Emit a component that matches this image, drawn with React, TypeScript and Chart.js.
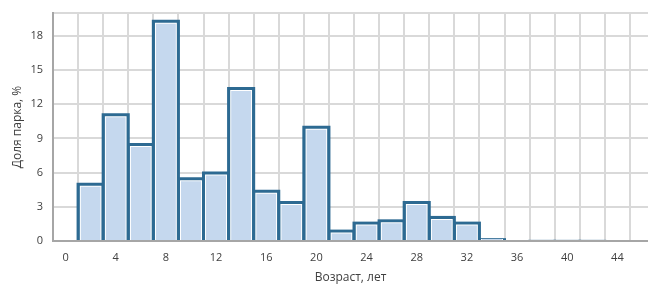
import React, { useEffect, useRef } from "react";
import { Chart, registerables } from "chart.js";

Chart.register(...registerables);

const ages = [0, 2, 4, 6, 8, 10, 12, 14, 16, 18, 20, 22, 24, 26, 28, 30, 32, 34, 36, 38, 40, 42, 44];
const shares = [0, 5.1, 11.2, 8.6, 19.4, 5.6, 6.1, 13.5, 4.5, 3.5, 10.1, 1.0, 1.7, 1.9, 3.5, 2.2, 1.7, 0.25, 0, 0.1, 0.1, 0.1, 0];
const xTickStep = 4;
const yTicks = [0, 3, 6, 9, 12, 15, 18];
const xTitle = "Возраст, лет";
const yTitle = "Доля парка, %";

const X_MIN = -1;
const X_MAX = 46.44;

const DARK = "#2d6a92";
const FILL = "#c5d8ee";
const GRID = "#d9d9d9";
const AXIS = "#a6a6a6";
const TEXT = "#404040";
const FONT = "'Open Sans', 'Noto Sans', sans-serif";

export default function App() {
  const ref = useRef<HTMLCanvasElement | null>(null);

  useEffect(() => {
    document.body.style.margin = "0";
    const points = ages.map((a, i) => ({ x: a, y: shares[i] }));
    const common = { xAxisID: "xb", categoryPercentage: 1 };
    const chart = new Chart(ref.current as HTMLCanvasElement, {
      type: "bar",
      data: {
        datasets: [
          {
            ...common,
            data: points,
            backgroundColor: FILL,
            borderColor: "rgba(0,0,0,0)",
            borderWidth: { top: 4, left: 0, right: 0, bottom: 0 },
            barPercentage: 0.8,
            grouped: false,
          },
          {
            ...common,
            data: points,
            backgroundColor: "#ffffff",
            borderColor: "rgba(0,0,0,0)",
            borderWidth: { top: 3, left: 0, right: 0, bottom: 0 },
            barPercentage: 0.88,
            grouped: false,
          },
          {
            ...common,
            data: points,
            backgroundColor: DARK,
            borderWidth: 0,
            barPercentage: 1.12,
          },
        ] as any,
      },
      options: {
        responsive: false,
        animation: false,
        layout: { padding: { top: 13, right: 0, left: 0, bottom: 0 } },
        plugins: { legend: { display: false }, tooltip: { enabled: false } },
        scales: {
          xb: {
            type: "linear",
            axis: "x",
            position: "bottom",
            display: false,
            min: X_MIN,
            max: X_MAX,
            offset: false,
            grid: { offset: false },
            afterBuildTicks: (s: any) => {
              s.ticks = ages.map((v) => ({ value: v }));
            },
          },
          x: {
            type: "linear",
            position: "bottom",
            min: X_MIN,
            max: X_MAX,
            offset: false,
            grid: {
              offset: false,
              drawTicks: false,
              lineWidth: 2,
              color: (ctx: any) => {
                const v = ctx.tick ? ctx.tick.value : NaN;
                return Number.isInteger(v) && v > -1 && Math.abs(v % 2) === 1 ? GRID : "rgba(0,0,0,0)";
              },
            },
            border: { display: true, color: AXIS, width: 2 },
            ticks: {
              stepSize: 1,
              autoSkip: false,
              maxRotation: 0,
              minRotation: 0,
              padding: 10,
              color: TEXT,
              font: { family: FONT, size: 11 },
              callback: (v: any) => (Number.isInteger(v) && v >= 0 && v % xTickStep === 0 ? String(v) : ""),
            },
            title: {
              display: true,
              text: xTitle,
              color: TEXT,
              font: { family: FONT, size: 12 },
              padding: { top: 0, bottom: 2 },
            },
            afterFit: (s: any) => {
              s.height = 46;
              s.paddingLeft = 0;
              s.paddingRight = 0;
            },
          },
          y: {
            min: 0,
            max: 20,
            grid: { drawTicks: false, lineWidth: 2, color: GRID },
            border: { display: true, color: AXIS, width: 2 },
            ticks: {
              stepSize: 3,
              padding: 10,
              color: TEXT,
              font: { family: FONT, size: 11 },
              callback: (v: any) => (yTicks.includes(v) ? String(v) : ""),
            },
            title: {
              display: true,
              text: yTitle,
              color: TEXT,
              font: { family: FONT, size: 12 },
              padding: { top: 10, bottom: 0 },
            },
            afterFit: (s: any) => {
              s.width = 53;
              s.paddingTop = 0;
              s.paddingBottom = 0;
            },
          },
        },
      } as any,
    });
    return () => chart.destroy();
  }, []);

  return (
    <div style={{ position: "absolute", left: 0, top: 0, width: 648, height: 287 }}>
      <canvas ref={ref} width={648} height={287} />
    </div>
  );
}
